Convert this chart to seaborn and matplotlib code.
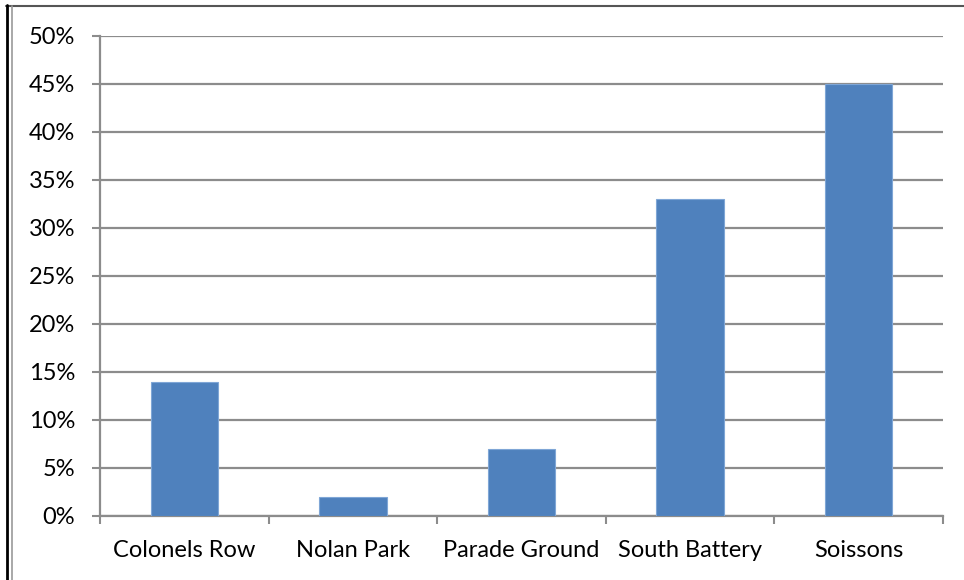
import matplotlib
matplotlib.use("Agg")
import matplotlib.pyplot as plt
from matplotlib.lines import Line2D
from matplotlib.ticker import FuncFormatter, FixedLocator
import seaborn as sns
import pandas as pd

sites = ["Colonels Row", "Nolan Park", "Parade Ground", "South Battery", "Soissons"]
share = [14, 2, 7, 33, 45]
yticks = [0, 5, 10, 15, 20, 25, 30, 35, 40, 45, 50]

sns.set_style("white")
plt.rcParams['font.family'] = ['Lato', 'DejaVu Sans']

df = pd.DataFrame({"site": sites, "share": share})

fig = plt.figure(figsize=(9.64, 5.8), dpi=100)
ax = fig.add_axes([100 / 964, 1 - 516 / 580, 843 / 964, 480 / 580])

sns.barplot(data=df, x="site", y="share", order=sites, color="#4F81BD",
            saturation=1, width=0.4, edgecolor="#7FA6D6", linewidth=0.8,
            ax=ax, zorder=3)

grid_c = "#8C8C8C"
ax.set_ylim(0, 50)
ax.set_xlim(-0.5, len(sites) - 0.5)
ax.yaxis.set_major_locator(FixedLocator(yticks))
ax.yaxis.set_major_formatter(FuncFormatter(lambda v, p: f"{int(v)}%"))
ax.grid(axis="y", color=grid_c, linewidth=1.6, zorder=0)
ax.set_axisbelow(True)

# category boundaries carry tick marks, centres carry labels
ax.set_xticks([i - 0.5 for i in range(len(sites) + 1)])
ax.set_xticklabels([])
ax.set_xticks(range(len(sites)), minor=True)
ax.set_xticklabels(sites, minor=True)
ax.tick_params(axis="x", which="major", length=6, width=1.5, color=grid_c, direction="out", bottom=True)
ax.tick_params(axis="x", which="minor", length=0, pad=17, labelsize=17, labelcolor="black")
ax.tick_params(axis="y", length=6, width=1.5, color=grid_c, direction="out", left=True,
               labelsize=17, pad=12, labelcolor="black")

for s in ["top", "right"]:
    ax.spines[s].set_visible(False)
for s in ["left", "bottom"]:
    ax.spines[s].set_color(grid_c)
    ax.spines[s].set_linewidth(1.6)

ax.set_xlabel("")
ax.set_ylabel("")

# outer frame lines
fig.add_artist(Line2D([6 / 964, 1], [1 - 5.5 / 580] * 2, transform=fig.transFigure, color="#555555", linewidth=1.5))
fig.add_artist(Line2D([7 / 964] * 2, [0, 1 - 5 / 580], transform=fig.transFigure, color="black", linewidth=2))
fig.add_artist(Line2D([11.5 / 964] * 2, [0, 1 - 6 / 580], transform=fig.transFigure, color="#999999", linewidth=1.2))

fig.savefig("out.png", dpi=100)
